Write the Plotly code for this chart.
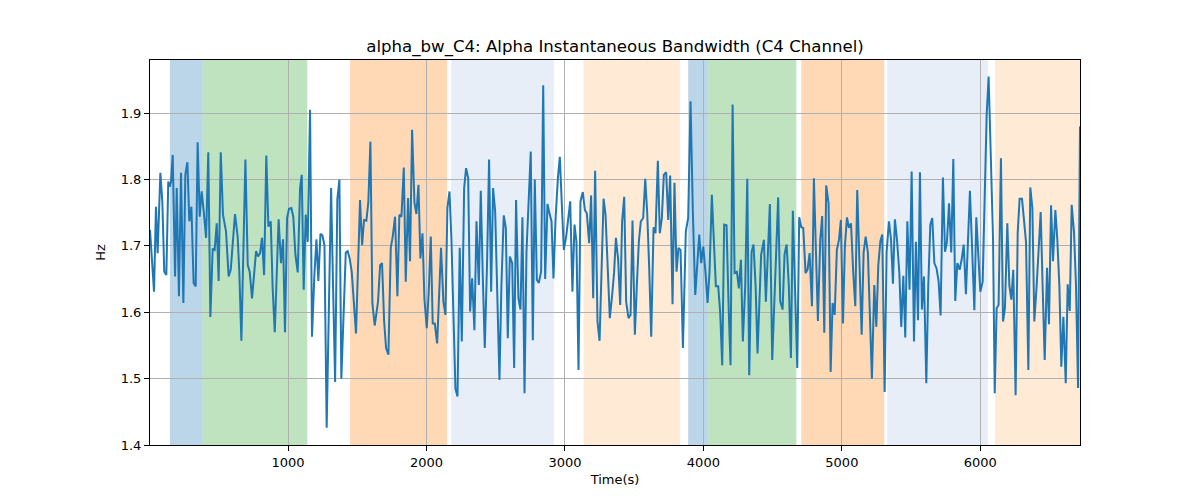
import plotly.graph_objects as go

time_s = [3, 20, 32, 46, 58, 78, 92, 106, 121, 135, 145, 155, 167, 184, 196, 212, 227, 244, 258, 273, 287, 302, 318, 333, 347, 362, 376, 391, 408, 424, 439, 456, 470, 485, 499, 514, 530,
          552, 571, 586, 617, 636, 648, 663, 692, 709, 723, 740, 754, 769, 783, 798, 812, 827, 843, 858, 875, 889, 904, 932, 949, 964, 978, 993, 1007, 1024, 1038, 1053, 1070,
          1087, 1099, 1113, 1128, 1142, 1159, 1173, 1190, 1205, 1219, 1234, 1248, 1263, 1279, 1294, 1311, 1325, 1340, 1356, 1371, 1385, 1417, 1431, 1446, 1460, 1475, 1491, 1520, 1535, 1549, 1566, 1580, 1595, 1609, 1626,
          1650, 1665, 1679, 1694, 1708, 1725, 1742, 1756, 1773, 1790, 1804, 1819, 1836, 1850, 1867, 1881, 1896, 1913, 1927, 1942, 1956, 1971, 1985, 2002, 2016, 2031, 2045, 2060, 2077, 2091, 2105, 2122, 2137, 2151, 2166, 2180,
          2209, 2224, 2240, 2255, 2272, 2286, 2301, 2315, 2330, 2346, 2361, 2378, 2392, 2407, 2421, 2438, 2452, 2467, 2481, 2496, 2513, 2527, 2541, 2558, 2573, 2587, 2602, 2619, 2633, 2647, 2664, 2679, 2693, 2708, 2722, 2737, 2753,
          2768, 2782, 2797, 2811, 2828, 2843, 2857, 2874, 2888, 2903, 2917, 2932, 2949, 2963, 2978, 2992, 3009, 3023, 3038, 3054, 3069, 3083, 3098, 3112, 3129, 3144, 3158, 3175, 3189, 3204, 3218, 3235, 3250, 3264, 3279, 3293,
          3324, 3341, 3355, 3368, 3384, 3399, 3413, 3428, 3442, 3459, 3474, 3488, 3505, 3519, 3534, 3548, 3565, 3580, 3594, 3608, 3623, 3640, 3654, 3671, 3685, 3700, 3714, 3731, 3746, 3760, 3777, 3791, 3806, 3820, 3835, 3852,
          3873, 3890, 3907, 3924, 3941, 3955, 3970, 3984, 3999, 4015, 4030, 4044, 4061, 4090, 4107, 4121, 4136, 4150, 4167, 4182, 4196, 4211, 4225, 4242, 4256, 4271, 4285, 4302, 4317, 4331, 4348, 4362, 4377, 4391,
          4417, 4437, 4451, 4466, 4480, 4497, 4540, 4555, 4572, 4586, 4601, 4617, 4632, 4646, 4663, 4678, 4692, 4707, 4721, 4738, 4752, 4767, 4784, 4798, 4813, 4827, 4844, 4858, 4873, 4887, 4904, 4919, 4933, 4948, 4964, 4979,
          4993, 5008, 5022, 5037, 5051, 5066, 5082, 5097, 5111, 5128, 5143, 5157, 5172, 5188, 5203, 5217, 5234, 5249, 5263, 5278, 5292, 5309, 5323, 5340, 5355, 5369, 5383, 5398, 5415, 5429, 5444, 5458, 5473, 5489, 5504, 5521,
          5535, 5550, 5564, 5578, 5593, 5610, 5624, 5639, 5653, 5668, 5684, 5699, 5713, 5730, 5745, 5759, 5774, 5790, 5805, 5819, 5834, 5851, 5865, 5880, 5896, 5911, 5925, 5940, 5957, 5971, 5986, 6000, 6017, 6031, 6046, 6060, 6077, 6092,
          6104, 6118, 6132, 6149, 6164, 6178, 6195, 6210, 6224, 6238, 6255, 6270, 6284, 6301, 6315, 6330, 6347, 6361, 6376, 6390, 6407, 6421, 6436, 6450, 6465, 6482, 6496, 6511, 6525, 6542, 6556, 6571, 6585, 6600, 6617, 6631, 6646, 6660, 6677, 6691, 6706, 6720]

alpha_bw = [1.724, 1.676, 1.631, 1.759, 1.689, 1.81, 1.767, 1.661, 1.656, 1.797, 1.789, 1.797, 1.837, 1.654, 1.787, 1.624, 1.81, 1.614, 1.807, 1.826, 1.737, 1.759, 1.644, 1.639, 1.856, 1.744, 1.782, 1.752, 1.712, 1.841, 1.593, 1.696, 1.694, 1.734, 1.647, 1.841, 1.747,
            1.722, 1.654, 1.664, 1.748, 1.714, 1.661, 1.557, 1.83, 1.671, 1.661, 1.621, 1.654, 1.692, 1.684, 1.689, 1.712, 1.656, 1.836, 1.729, 1.737, 1.636, 1.57, 1.74, 1.674, 1.71, 1.57, 1.742, 1.756, 1.757, 1.744, 1.687, 1.66,
            1.787, 1.807, 1.634, 1.747, 1.706, 1.905, 1.563, 1.655, 1.71, 1.647, 1.718, 1.716, 1.701, 1.426, 1.62, 1.787, 1.64, 1.495, 1.77, 1.8, 1.5, 1.69, 1.692, 1.68, 1.661, 1.62, 1.568, 1.769, 1.701, 1.739, 1.738, 1.766, 1.857, 1.614, 1.58,
            1.616, 1.671, 1.674, 1.586, 1.546, 1.536, 1.697, 1.714, 1.744, 1.624, 1.747, 1.744, 1.818, 1.646, 1.772, 1.677, 1.875, 1.765, 1.748, 1.792, 1.681, 1.719, 1.62, 1.576, 1.63, 1.714, 1.583, 1.583, 1.553, 1.62, 1.697, 1.616, 1.596, 1.757, 1.782, 1.71,
            1.485, 1.473, 1.697, 1.556, 1.787, 1.817, 1.802, 1.601, 1.651, 1.573, 1.737, 1.641, 1.783, 1.65, 1.546, 1.68, 1.83, 1.631, 1.787, 1.752, 1.6, 1.498, 1.64, 1.746, 1.727, 1.561, 1.684, 1.674, 1.516, 1.769, 1.621, 1.604, 1.743, 1.478, 1.69, 1.777, 1.842,
            1.558, 1.8, 1.649, 1.644, 1.661, 1.942, 1.65, 1.763, 1.749, 1.737, 1.651, 1.74, 1.802, 1.834, 1.76, 1.694, 1.714, 1.745, 1.767, 1.631, 1.732, 1.706, 1.513, 1.767, 1.781, 1.754, 1.749, 1.704, 1.776, 1.621, 1.813, 1.586, 1.557, 1.66, 1.771, 1.747,
            1.591, 1.626, 1.66, 1.712, 1.68, 1.611, 1.737, 1.774, 1.616, 1.591, 1.596, 1.738, 1.566, 1.64, 1.707, 1.737, 1.742, 1.801, 1.75, 1.67, 1.563, 1.728, 1.719, 1.828, 1.719, 1.742, 1.807, 1.811, 1.739, 1.806, 1.612, 1.795, 1.661, 1.697, 1.694, 1.546,
            1.722, 1.742, 1.918, 1.75, 1.626, 1.67, 1.717, 1.674, 1.699, 1.66, 1.614, 1.66, 1.777, 1.639, 1.639, 1.6, 1.52, 1.732, 1.731, 1.61, 1.52, 1.913, 1.659, 1.661, 1.636, 1.679, 1.556, 1.64, 1.801, 1.505, 1.691, 1.702, 1.64, 1.538,
            1.687, 1.709, 1.616, 1.69, 1.763, 1.528, 1.773, 1.616, 1.604, 1.687, 1.702, 1.64, 1.531, 1.753, 1.63, 1.516, 1.743, 1.728, 1.727, 1.659, 1.664, 1.689, 1.609, 1.802, 1.69, 1.587, 1.71, 1.745, 1.569, 1.791, 1.764, 1.51, 1.614, 1.596, 1.694, 1.709,
            1.739, 1.583, 1.70, 1.743, 1.727, 1.734, 1.66, 1.609, 1.784, 1.66, 1.566, 1.69, 1.714, 1.69, 1.6, 1.5, 1.641, 1.578, 1.67, 1.707, 1.717, 1.48, 1.69, 1.737, 1.71, 1.643, 1.74, 1.71, 1.66, 1.578, 1.655, 1.562, 1.737, 1.634, 1.812, 1.556,
            1.706, 1.588, 1.811, 1.604, 1.654, 1.493, 1.64, 1.732, 1.742, 1.674, 1.666, 1.646, 1.595, 1.803, 1.691, 1.706, 1.764, 1.69, 1.831, 1.617, 1.674, 1.664, 1.679, 1.702, 1.627, 1.72, 1.783, 1.70, 1.603, 1.743, 1.68, 1.631, 1.646, 1.76, 1.898, 1.955, 1.80, 1.71,
            1.478, 1.606, 1.611, 1.832, 1.586, 1.606, 1.734, 1.64, 1.619, 1.664, 1.475, 1.72, 1.771, 1.771, 1.74, 1.706, 1.513, 1.788, 1.757, 1.586, 1.64, 1.70, 1.751, 1.64, 1.528, 1.667, 1.582, 1.761, 1.677, 1.754, 1.71, 1.64, 1.518, 1.593, 1.493, 1.642, 1.602, 1.762, 1.72, 1.64, 1.486, 1.88]

region_start = [147, 383, 1448, 2178, 3134, 3890, 4035, 4707, 5328, 6106]
region_end = [383, 1139, 2149, 2920, 3830, 4035, 4671, 5306, 6055, 6720]
region_color = ["#1f77b4", "#2ca02c", "#ff7f0e", "#aec7e8", "#ffbb78",
                "#1f77b4", "#2ca02c", "#ff7f0e", "#aec7e8", "#ffbb78"]

x_ticks = [1000, 2000, 3000, 4000, 5000, 6000]
y_ticks = [1.4, 1.5, 1.6, 1.7, 1.8, 1.9]

fig = go.Figure()

for s, e, c in zip(region_start, region_end, region_color):
    fig.add_vrect(x0=s, x1=e, fillcolor=c, opacity=0.3, line_width=0, layer="below")

fig.add_trace(go.Scatter(x=time_s, y=alpha_bw, mode="lines",
                         line=dict(color="#1f77b4", width=2), showlegend=False))

font_family = "DejaVu Sans"
fig.update_layout(
    width=1200, height=500,
    margin=dict(l=150, r=120, t=60, b=55),
    paper_bgcolor="white", plot_bgcolor="white",
    font=dict(family=font_family, size=13, color="black"),
    title=dict(text="alpha_bw_C4: Alpha Instantaneous Bandwidth (C4 Channel)",
               x=0.5125, xanchor="center", y=0.908, yanchor="middle",
               font=dict(size=16.6, color="black")),
)
fig.update_xaxes(
    range=[3, 6720], tickvals=x_ticks, ticktext=[str(v) for v in x_ticks],
    showgrid=True, gridcolor="#b0b0b0", gridwidth=1,
    showline=True, linecolor="black", linewidth=1, mirror=True,
    ticks="outside", ticklen=5, tickcolor="black", zeroline=False,
    title=dict(text="Time(s)", font=dict(size=13), standoff=6),
)
fig.update_yaxes(
    range=[1.4, 1.98], tickvals=y_ticks, ticktext=["%.1f" % v for v in y_ticks],
    showgrid=True, gridcolor="#b0b0b0", gridwidth=1,
    showline=True, linecolor="black", linewidth=1, mirror=True,
    ticks="outside", ticklen=5, tickcolor="black", zeroline=False,
    title=dict(text="Hz", font=dict(size=13), standoff=12),
)

fig.write_html("out.html")
